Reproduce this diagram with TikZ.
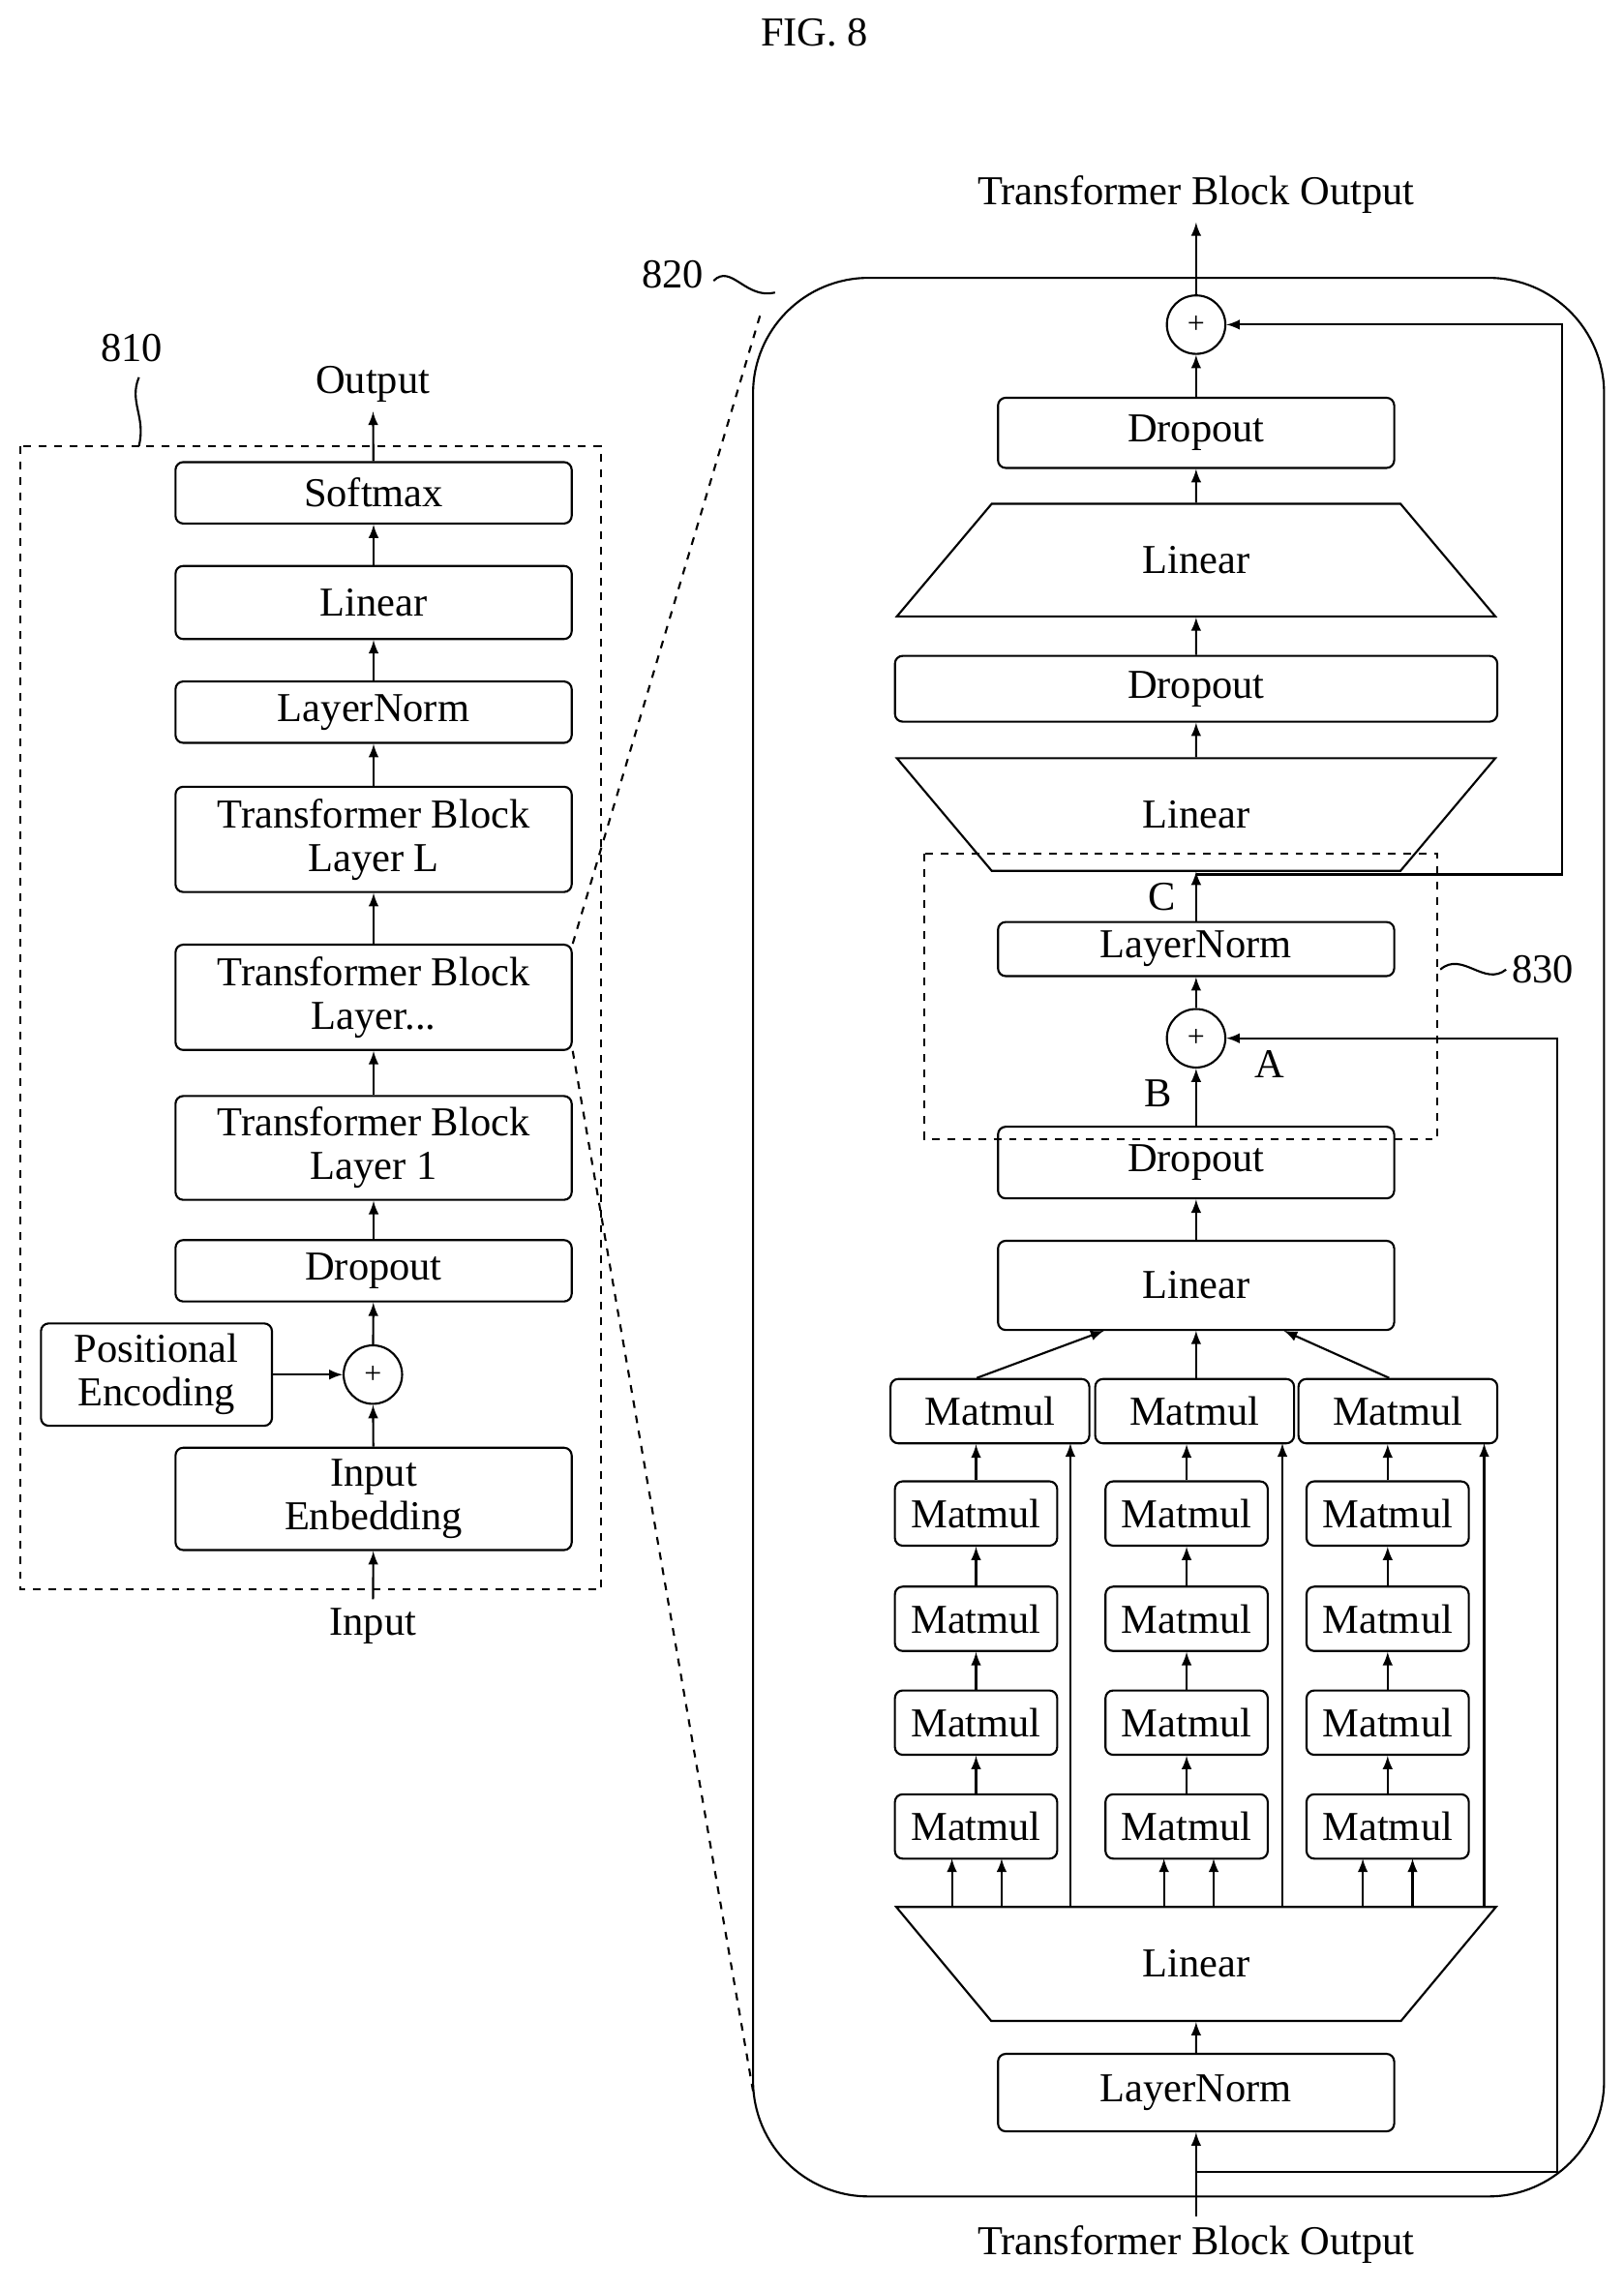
\documentclass[tikz,border=0pt]{standalone}
\usepackage{fontspec}
\setmainfont{Liberation Serif}
\usetikzlibrary{positioning,shapes.geometric,calc}

\begin{document}
\begin{tikzpicture}[x=0.02cm,y=-0.02cm,
  box/.style={rectangle,draw,thick,rounded corners=3pt,align=center,inner sep=0pt,minimum width=5.42cm,font=\fontsize{16}{17}\selectfont},
  mm/.style={box,minimum width=2.22cm,minimum height=0.88cm},
  trap/.style={trapezium,draw,thick,trapezium stretches=true,trapezium angle=48,minimum width=8.22cm,minimum height=1.54cm,inner sep=0pt,font=\fontsize{16}{16}\selectfont},
  sum/.style={circle,draw,thick,minimum size=0.8cm,inner sep=0pt,font=\large},
  lbl/.style={font=\fontsize{16}{16}\selectfont},
  up/.style={->,>=latex,thick}]
\useasboundingbox (0,0) rectangle (1110,1566);

\node[lbl] (fig) at (557,22) {FIG. 8};

% left network 810
\draw[thick,dashed] (14,305) rectangle (411,1087);
\node[lbl] (n810) at (90,238) {810};
\draw[thick] (95,258) .. controls (88,275) and (100,285) .. (95,305);
\node[lbl] (output) at (255,263) {Output};
\node[box,minimum height=0.84cm] (softmax) at (255.5,337) {Softmax};
\node[box,minimum height=1.0cm] (linL) at (255.5,412) {Linear};
\node[box,minimum height=0.84cm] (lnL) at (255.5,487) {LayerNorm};
\node[box,minimum height=1.44cm] (tbL) at (255.5,574) {Transformer Block\\Layer L};
\node[box,minimum height=1.44cm] (tbM) at (255.5,682) {Transformer Block\\Layer...};
\node[box,minimum height=1.42cm] (tb1) at (255.5,785) {Transformer Block\\Layer 1};
\node[box,minimum height=0.84cm] (dropL) at (255.5,869) {Dropout};
\node[sum] (plusL) at (255,940) {+};
\node[box,minimum width=3.16cm,minimum height=1.4cm] (pos) at (107,940) {Positional\\Encoding};
\node[box,minimum height=1.4cm] (emb) at (255.5,1025) {Input\\Enbedding};
\node[lbl] (input) at (255,1112) {Input};

\draw[up] (input) -- (emb);
\draw[up] (emb) -- (plusL);
\draw[up] (pos) -- (plusL);
\draw[up] (plusL) -- (dropL);
\draw[up] (dropL) -- (tb1);
\draw[up] (tb1) -- (tbM);
\draw[up] (tbM) -- (tbL);
\draw[up] (tbL) -- (lnL);
\draw[up] (lnL) -- (linL);
\draw[up] (linL) -- (softmax);
\draw[up] (softmax) -- (output);

% zoom lines
\draw[thick,dashed] (tbM.north east) -- (520,215);
\draw[thick,dashed] (tbM.south east) -- (515,1430);

% transformer block 820
\draw[thick,rounded corners=45] (515,190) rectangle (1097,1502);
\node[lbl] (n820) at (460,188) {820};
\draw[thick] (488,192) .. controls (500,180) and (510,205) .. (530,200);
\node[lbl] (outT) at (818,133) {Transformer Block Output};
\node[lbl] (inT) at (818,1535) {Transformer Block Output};

\node[sum] (plus1) at (818,222) {+};
\node[box,minimum height=0.96cm] (drop1) at (818,296) {Dropout};
\node[trap] (lin1) at (818,383) {Linear};
\node[box,minimum width=8.24cm,minimum height=0.9cm] (drop2) at (818,471) {Dropout};
\node[trap,shape border rotate=180] (lin2) at (818,557) {Linear};
\node[box,minimum height=0.74cm] (ln1) at (818,649) {LayerNorm};
\node[sum] (plus2) at (818,710) {+};
\node[box,minimum height=0.98cm] (drop3) at (818,795) {Dropout};
\node[box,minimum height=1.22cm] (lin3) at (818,879) {Linear};
\node[trap,shape border rotate=180,minimum width=8.24cm,minimum height=1.56cm] (lin4) at (818,1343) {Linear};
\node[box,minimum height=1.06cm] (ln2) at (818,1431) {LayerNorm};

% block 830
\draw[thick,dashed] (632,584) rectangle (983,779);
\node[lbl] (n830) at (1055,663) {830};
\draw[thick] (985,663) .. controls (1000,650) and (1015,675) .. (1030,663);
\node[lbl] (lC) at (795,613) {C};
\node[lbl] (lA) at (868,728) {A};
\node[lbl] (lB) at (792,748) {B};

% heads
\foreach \i/\xt/\xs/\xa/\xb/\xr in {1/677/667.5/651/685/732, 2/817/811.5/796/830/877, 3/956/949/932/966/1015}{
  \node[box,minimum width=2.72cm,minimum height=0.88cm] (mt\i) at (\xt,965) {Matmul};
  \foreach \j/\yy in {1/1035,2/1107,3/1178,4/1249}
    \node[mm] (m\i\j) at (\xs,\yy) {Matmul};
  \draw[up] (m\i4) -- (m\i3);
  \draw[up] (m\i3) -- (m\i2);
  \draw[up] (m\i2) -- (m\i1);
  \draw[up] (m\i1) -- (m\i1 |- mt\i.south);
  \draw[up] (\xa,1304) -- (\xa,1271);
  \draw[up] (\xb,1304) -- (\xb,1271);
  \draw[up] (\xr,1304) -- (\xr,987);
}
\draw[up] (mt1.north) ++(-9,0) -- (755,910);
\draw[up] (818,943) -- (818,910);
\draw[up] (mt3.north) ++(-6,0) -- (878,910);

\draw[up] (inT) -- (ln2);
\draw[up] (ln2) -- (lin4);
\draw[up] (lin3) -- (drop3);
\draw[up] (drop3) -- (plus2);
\draw[up] (plus2) -- (ln1);
\draw[up] (ln1) -- (818,596);
\draw[up] (lin2) -- (drop2);
\draw[up] (drop2) -- (lin1);
\draw[up] (lin1) -- (drop1);
\draw[up] (drop1) -- (plus1);
\draw[up] (plus1) -- (outT);

% residuals
\draw[up] (818,1485) -- (1065,1485) -- (1065,710) -- (plus2);
\draw[up] (818,598) -- (1068,598) -- (1068,222) -- (plus1);
\end{tikzpicture}
\end{document}
